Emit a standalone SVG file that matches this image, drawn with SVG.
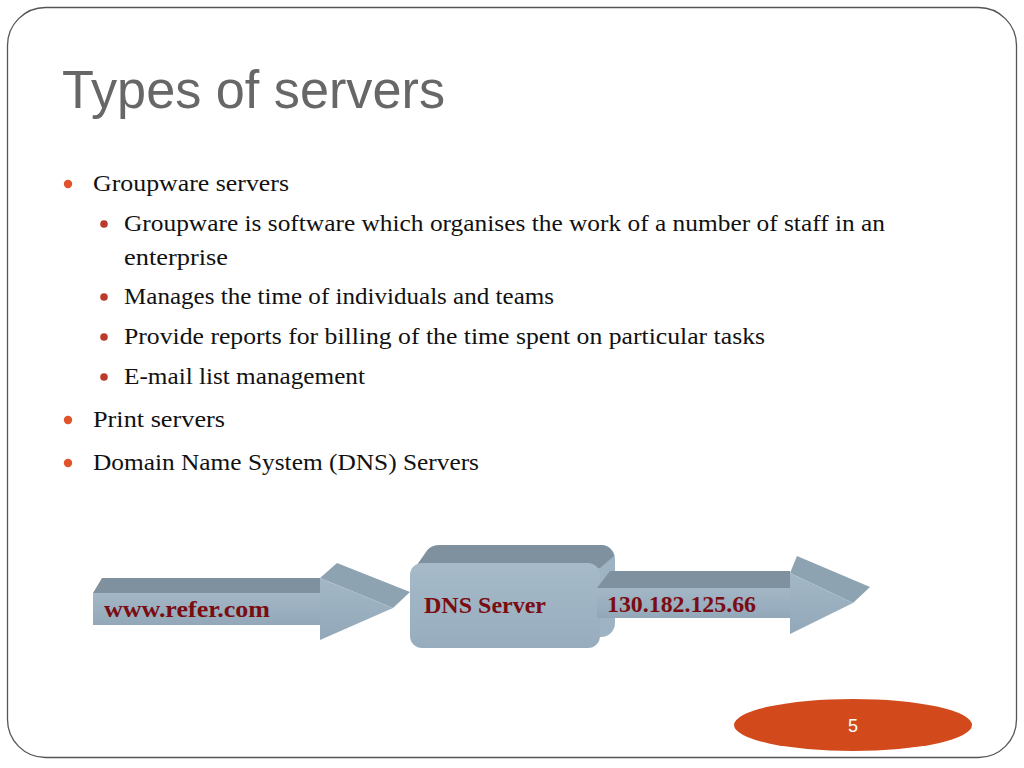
<svg xmlns="http://www.w3.org/2000/svg" width="1024" height="768" viewBox="0 0 1024 768">
<defs>
<linearGradient id="front" x1="0" y1="0" x2="0" y2="1">
<stop offset="0" stop-color="#a3b7c6"/>
<stop offset="1" stop-color="#92a8b8"/>
</linearGradient>
<linearGradient id="boxfront" x1="0" y1="0" x2="0" y2="1">
<stop offset="0" stop-color="#a6bac9"/>
<stop offset="1" stop-color="#97adbd"/>
</linearGradient>
<linearGradient id="boxside" x1="0" y1="0" x2="1" y2="0">
<stop offset="0" stop-color="#b4c6d3"/>
<stop offset="1" stop-color="#9db2c2"/>
</linearGradient>
<style>
.top{fill:#7f919e}
.side{fill:#8ea3b2}
.front{fill:url(#front)}
.lbl{font-family:"Liberation Serif",serif;font-weight:bold;font-size:24px;fill:#7a0c12}
.l1{font-family:"Liberation Serif",serif;font-size:23px;fill:#111}
.b1{fill:#e0532b}
.b2{fill:#b93a2a}
</style>
</defs>
<rect width="1024" height="768" fill="#fff"/>
<rect x="7.5" y="7.5" width="1009" height="750" rx="38" ry="38" fill="none" stroke="#555" stroke-width="1.3"/>
<text x="62" y="108" font-family="Liberation Sans, Arial, sans-serif" font-size="53" fill="#676767" textLength="383" lengthAdjust="spacingAndGlyphs">Types of servers</text>
<g id="bullets">
<circle class="b1" cx="68" cy="184" r="4.2"/>
<text class="l1" x="93" y="191" textLength="196" lengthAdjust="spacingAndGlyphs">Groupware servers</text>
<circle class="b2" cx="104" cy="224" r="3.8"/>
<text class="l1" x="124" y="231" textLength="761" lengthAdjust="spacingAndGlyphs">Groupware is software which organises the work of a number of staff in an</text>
<text class="l1" x="124" y="265" textLength="104" lengthAdjust="spacingAndGlyphs">enterprise</text>
<circle class="b2" cx="104" cy="297" r="3.8"/>
<text class="l1" x="124" y="304" textLength="430" lengthAdjust="spacingAndGlyphs">Manages the time of individuals and teams</text>
<circle class="b2" cx="104" cy="337" r="3.8"/>
<text class="l1" x="124" y="344" textLength="641" lengthAdjust="spacingAndGlyphs">Provide reports for billing of the time spent on particular tasks</text>
<circle class="b2" cx="104" cy="377" r="3.8"/>
<text class="l1" x="124" y="384" textLength="241" lengthAdjust="spacingAndGlyphs">E-mail list management</text>
<circle class="b1" cx="68" cy="420" r="4.2"/>
<text class="l1" x="93" y="427" textLength="132" lengthAdjust="spacingAndGlyphs">Print servers</text>
<circle class="b1" cx="68" cy="463" r="4.2"/>
<text class="l1" x="93" y="470" textLength="386" lengthAdjust="spacingAndGlyphs">Domain Name System (DNS) Servers</text>
</g>
<g id="dns-server">
<rect x="425" y="545" width="190" height="92" rx="14" fill="url(#boxside)"/>
<path d="M412,572 L426,552 Q430,545 440,545 L602,545 Q612,546 614,556 L600,568 Z" fill="#7f919e"/>
<rect x="410" y="563" width="190" height="85" rx="12" fill="url(#boxfront)"/>
<text class="lbl" x="424" y="613" textLength="122" lengthAdjust="spacingAndGlyphs">DNS Server</text>
</g>
<g id="connectors">
<g id="arrow-in">
<polygon class="top" points="93,593 102,578 320,578 320,593"/>
<polygon class="side" points="320,578 337,563 410,592 393,608"/>
<rect class="front" x="93" y="593" width="227" height="32"/>
<polygon class="front" points="320,578 393,608 320,640"/>
<text class="lbl" x="104" y="617" textLength="166" lengthAdjust="spacingAndGlyphs">www.refer.com</text>
</g>
<g id="arrow-out">
<polygon class="top" points="597,588 610,571 790,571 790,588"/>
<polygon class="side" points="790,573 797,556 870,587 853,603"/>
<rect class="front" x="597" y="588" width="193" height="30"/>
<polygon class="front" points="790,573 853,603 790,634"/>
<text class="lbl" x="607" y="612" textLength="149" lengthAdjust="spacingAndGlyphs">130.182.125.66</text>
</g>
</g>
<g id="page-number">
<ellipse cx="853" cy="725" rx="119" ry="26" fill="#d24a1c"/>
<text x="853" y="732" font-family="Liberation Sans, Arial, sans-serif" font-size="18" fill="#fff" text-anchor="middle">5</text>
</g>
</svg>
